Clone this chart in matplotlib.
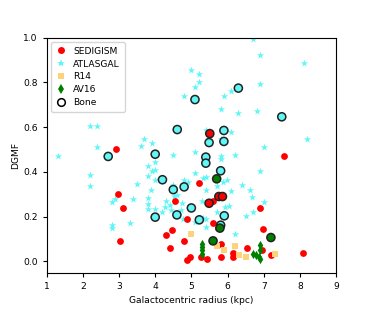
import matplotlib
matplotlib.use("Agg")
import matplotlib.pyplot as plt
from matplotlib.lines import Line2D

# SEDIGISM
sed_r = [2.92, 2.96, 3.11, 3.03, 4.30, 4.46, 4.40, 4.55, 4.81, 4.89, 4.87, 4.97,
         5.22, 5.26, 5.44, 5.59, 5.60, 5.82, 5.82, 6.14, 6.15, 6.54, 6.90, 6.98,
         6.96, 7.20, 7.56, 8.08, 5.75, 5.51, 5.49, 5.76, 5.86]
sed_d = [0.50, 0.30, 0.24, 0.09, 0.12, 0.14, 0.06, 0.27, 0.09, 0.19, 0.006, 0.02,
         0.35, 0.02, 0.01, 0.27, 0.17, 0.08, 0.02, 0.04, 0.02, 0.06, 0.24, 0.145,
         0.05, 0.03, 0.47, 0.04, 0.15, 0.571, 0.26, 0.29, 0.29]

# ATLASGAL
atl_r = [1.30, 2.19, 2.40, 2.40, 2.19, 2.19, 3.49, 3.70, 3.60, 3.91, 3.81, 3.91,
         3.81, 3.89, 2.80, 2.89, 3.40, 3.80, 3.80, 3.80, 2.80, 2.80, 3.30, 3.99,
         4.00, 3.99, 4.00, 4.20, 4.31, 4.27, 4.40, 4.45, 4.50, 4.50, 4.60, 4.52,
         4.73, 4.70, 4.76, 4.80, 4.90, 5.10, 5.10, 5.10, 5.31, 5.40, 5.30, 5.70,
         5.93, 6.03, 6.21, 6.11, 5.81, 5.81, 6.20, 5.40, 5.31, 5.99, 5.88, 6.40,
         6.61, 6.69, 7.00, 6.70, 6.50, 5.40, 5.70, 5.41, 6.90, 6.71, 6.90, 8.11,
         5.00, 5.21, 5.21, 5.10, 4.80, 6.90, 6.09, 5.90, 5.81, 6.30, 6.81, 8.20,
         7.00, 5.41, 6.10, 5.81]
atl_d = [0.472, 0.603, 0.607, 0.509, 0.386, 0.339, 0.344, 0.546, 0.515, 0.527, 0.427, 0.402,
         0.383, 0.319, 0.265, 0.277, 0.281, 0.283, 0.258, 0.235, 0.164, 0.149, 0.171, 0.446,
         0.41, 0.365, 0.235, 0.22, 0.27, 0.243, 0.253, 0.231, 0.476, 0.342, 0.296, 0.293,
         0.263, 0.231, 0.189, 0.362, 0.357, 0.49, 0.396, 0.176, 0.192, 0.154, 0.268, 0.219,
         0.243, 0.246, 0.122, 0.313, 0.47, 0.457, 0.475, 0.377, 0.372, 0.365, 0.357, 0.341,
         0.319, 0.286, 0.267, 0.223, 0.201, 0.317, 0.338, 0.189, 0.406, 0.993, 0.921, 0.888,
         0.853, 0.839, 0.80, 0.779, 0.737, 0.793, 0.762, 0.741, 0.683, 0.662, 0.674, 0.546,
         0.513, 0.588, 0.578, 0.548]

# R14
r14_r = [5.00, 5.70, 5.90, 6.20, 6.31, 6.50, 7.31]
r14_d = [0.122, 0.067, 0.053, 0.067, 0.027, 0.018, 0.034]

# AV16
av_r = [5.30, 5.30, 5.30, 5.30, 6.71, 6.78, 6.86, 6.90, 6.90, 6.91]
av_d = [0.035, 0.05, 0.065, 0.08, 0.033, 0.027, 0.02, 0.012, 0.05, 0.075]

# Bone (with catalogue of the matched source: A=ATLASGAL, S=SEDIGISM, V=AV16)
bone_r = [2.70, 4.00, 4.00, 4.20, 4.50, 4.80, 4.60, 5.00, 5.22, 4.61, 6.30, 5.10,
          7.50, 5.90, 5.49, 5.90, 5.40, 5.40, 5.81, 5.91, 5.81,
          5.51, 5.49, 5.76, 5.86,
          5.70, 5.79, 5.60, 7.20]
bone_d = [0.469, 0.479, 0.198, 0.365, 0.321, 0.333, 0.208, 0.239, 0.186, 0.589, 0.774, 0.723,
          0.646, 0.585, 0.531, 0.536, 0.466, 0.439, 0.405, 0.204, 0.162,
          0.571, 0.26, 0.29, 0.29,
          0.369, 0.149, 0.092, 0.107]
bone_match = ["A"] * 21 + ["S"] * 4 + ["V"] * 4

col_sed = "red"
col_atl = "#5ff6f6"
col_r14 = "#fdd27a"
col_av = "green"
match_col = {"A": col_atl, "S": col_sed, "V": col_av}

fig = plt.figure(figsize=(3.74, 3.12), dpi=100)
ax = fig.add_axes([0.1249, 0.126, 0.7735, 0.7538])

ax.scatter(sed_r, sed_d, s=24, marker="o", color=col_sed, lw=0, zorder=2, label="SEDIGISM")
ax.scatter(atl_r, atl_d, s=30, marker="*", color=col_atl, lw=0, zorder=1, label="ATLASGAL")
ax.scatter(r14_r, r14_d, s=22, marker="s", color=col_r14, lw=0, zorder=2, label="R14")
ax.scatter(av_r, av_d, s=22, marker="d", color=col_av, lw=0, zorder=3, label="AV16")
ax.scatter(bone_r, bone_d, s=34, marker="o", facecolors=[match_col[m] for m in bone_match],
           edgecolors="#222222", linewidths=1.1, zorder=4)

handles = [
    Line2D([], [], ls="", marker="o", ms=5, color=col_sed, mew=0),
    Line2D([], [], ls="", marker="*", ms=6, color=col_atl, mew=0),
    Line2D([], [], ls="", marker="s", ms=5, color=col_r14, mew=0),
    Line2D([], [], ls="", marker="d", ms=5, color=col_av, mew=0),
    Line2D([], [], ls="", marker="o", ms=5.5, mfc="none", mec="k", mew=1.1),
]
labels = ["SEDIGISM", "ATLASGAL", "R14", "AV16", "Bone"]
ax.legend(handles, labels, loc="upper left", fontsize=6.6, handletextpad=0.7,
          borderpad=0.5, labelspacing=0.42, handlelength=1.2)

ax.set_xlim(1, 9)
ax.set_ylim(-0.05, 1.0)
ax.set_xticks(range(1, 10))
ax.set_yticks([0.0, 0.2, 0.4, 0.6, 0.8, 1.0])
ax.tick_params(labelsize=6.6, length=3, width=0.8)
ax.set_xlabel("Galactocentric radius (kpc)", fontsize=6.6)
ax.set_ylabel("DGMF", fontsize=6.6, labelpad=2)

fig.savefig("out.png", dpi=100)
